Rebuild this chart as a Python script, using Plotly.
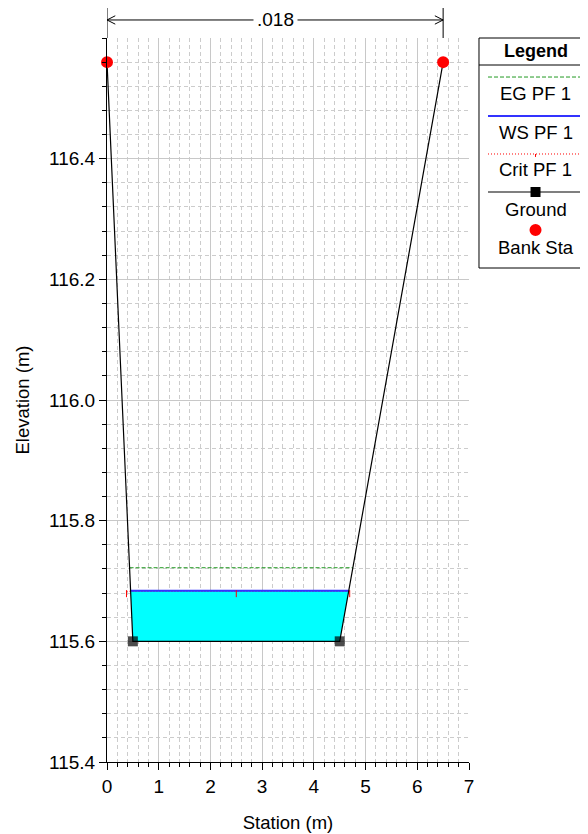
import numpy as np
import plotly.graph_objects as go

# cross-section data
station = [0.0, 0.5, 4.5, 6.5]
ground_elev = [116.56, 115.6, 115.6, 116.56]
bank_sta = [0.0, 6.5]
bank_elev = [116.56, 116.56]
ws_elev = 115.684
eg_elev = 115.722
crit_elev = 115.683
n_label = ".018"

x_ticks = [0, 1, 2, 3, 4, 5, 6, 7]
y_ticks = [115.4, 115.6, 115.8, 116.0, 116.2, 116.4]

FONT = "Liberation Sans, Arial, sans-serif"
EG_LINE = dict(color='#229922', width=1, dash='4px,2px')
WS_LINE = dict(color='#3333ff', width=2)
CRIT_LINE = dict(color='#ff0000', width=1, dash='1px,2px')
GROUND_LINE = dict(color='black', width=1.2)


def water_edges(elev):
    # where a horizontal level meets the left / right bank slopes
    left = np.interp(elev, [ground_elev[1], ground_elev[0]], [station[1], station[0]])
    right = np.interp(elev, [ground_elev[2], ground_elev[3]], [station[2], station[3]])
    return left, right


fig = go.Figure()

# water fill
wl, wr = water_edges(ws_elev)
fig.add_trace(go.Scatter(
    x=[wl, station[1], station[2], wr, wl],
    y=[ws_elev, ground_elev[1], ground_elev[2], ws_elev, ws_elev],
    mode='lines', fill='toself', fillcolor='#00ffff',
    line=dict(width=0), showlegend=False, hoverinfo='skip',
))

# EG
el, er = water_edges(eg_elev)
fig.add_trace(go.Scatter(
    x=[el, er], y=[eg_elev, eg_elev], mode='lines',
    line=EG_LINE, showlegend=False,
))

# Crit
cl, cr = water_edges(crit_elev)
fig.add_trace(go.Scatter(
    x=[cl - 0.08, cr + 0.02], y=[crit_elev, crit_elev], mode='lines',
    line=CRIT_LINE, showlegend=False,
))

# WS
fig.add_trace(go.Scatter(
    x=[wl, wr], y=[ws_elev, ws_elev], mode='lines',
    line=WS_LINE, showlegend=False,
))

# crit tick marks
fig.add_trace(go.Scatter(
    x=[cl - 0.08, (station[0] + station[3]) / 2 - 0.75, cr + 0.02],
    y=[crit_elev - 0.004] * 3, mode='markers',
    marker=dict(symbol='line-ns', size=5, line=dict(color='#ff0000', width=1)),
    showlegend=False, hoverinfo='skip',
))

# ground
fig.add_trace(go.Scatter(
    x=station, y=ground_elev, mode='lines+markers',
    line=GROUND_LINE,
    marker=dict(symbol='square', size=[0, 10, 10, 0], color='black',
                line=dict(width=0)),
    showlegend=False,
))

# bank stations
fig.add_trace(go.Scatter(
    x=bank_sta, y=bank_elev, mode='markers',
    marker=dict(symbol='circle', size=12, color='#ff0000', line=dict(width=0)),
    showlegend=False, cliponaxis=False,
))

fig.update_xaxes(
    range=[0, 7], tickvals=x_ticks, ticks='outside', ticklen=7, tickcolor='black',
    showline=True, linecolor='black', linewidth=1, automargin=False,
    showgrid=True, gridcolor='#c8c8c8', gridwidth=1, zeroline=False,
    minor=dict(dtick=0.2, tick0=0, ticks='outside', ticklen=4, tickcolor='black',
               showgrid=True, gridcolor='#cccccc', griddash='4px,3px', gridwidth=1),
    title=dict(text='Station (m)', font=dict(size=18.5, family=FONT, color='black'), standoff=20),
    tickfont=dict(size=19, family=FONT, color='black'),
)
fig.update_yaxes(
    range=[115.4, 116.6], tickvals=y_ticks, tickformat='.1f', ticks='outside',
    ticklen=7, tickcolor='black',
    showline=True, linecolor='black', linewidth=1, automargin=False,
    showgrid=True, gridcolor='#c8c8c8', gridwidth=1, zeroline=False,
    minor=dict(dtick=0.04, tick0=115.4, ticks='outside', ticklen=4, tickcolor='black',
               showgrid=True, gridcolor='#cccccc', griddash='4px,3px', gridwidth=1),
    title=dict(text='Elevation (m)', font=dict(size=18.5, family=FONT, color='black'), standoff=14),
    tickfont=dict(size=19, family=FONT, color='black'),
)

shapes = []
annotations = []

# dimension line with n-value above the plot
dim_y = 1.0249
for xs in bank_sta:
    shapes.append(dict(type='line', xref='x', yref='paper', x0=xs, x1=xs,
                       y0=1.0, y1=1.06, line=dict(color='black', width=1)))
shapes.append(dict(type='line', xref='x', yref='paper', x0=bank_sta[0], x1=bank_sta[1],
                   y0=dim_y, y1=dim_y, line=dict(color='black', width=1)))
d, h = 0.16, 0.0058
shapes.append(dict(type='path', xref='x', yref='paper',
                   path=f'M {bank_sta[0] + d},{dim_y + h} L {bank_sta[0]},{dim_y} L {bank_sta[0] + d},{dim_y - h}',
                   line=dict(color='black', width=1)))
shapes.append(dict(type='path', xref='x', yref='paper',
                   path=f'M {bank_sta[1] - d},{dim_y + h} L {bank_sta[1]},{dim_y} L {bank_sta[1] - d},{dim_y - h}',
                   line=dict(color='black', width=1)))
annotations.append(dict(x=(bank_sta[0] + bank_sta[1]) / 2, y=dim_y, xref='x', yref='paper',
                        xanchor='center', yanchor='middle',
                        text=n_label, showarrow=False, bgcolor='white',
                        font=dict(size=19, family=FONT, color='black'), borderpad=3))

# manual legend box
lx0, lx1 = 1.0276, 1.34
la, lb = 1.0525, 1.315
lc = (la + lb) / 2
shapes.append(dict(type='rect', xref='paper', yref='paper', x0=lx0, x1=lx1,
                   y0=0.6823, y1=1.0, line=dict(color='black', width=1), fillcolor='white',
                   layer='below'))
shapes.append(dict(type='line', xref='paper', yref='paper', x0=lx0, x1=lx1,
                   y0=0.9627, y1=0.9627, line=dict(color='black', width=1)))
annotations.append(dict(x=lc, y=0.982, xref='paper', yref='paper', text='<b>Legend</b>',
                        xanchor='center', yanchor='middle',
                        showarrow=False, font=dict(size=18, family=FONT, color='black')))

entries = [
    ('EG PF 1', 0.9461, 0.9227, EG_LINE),
    ('WS PF 1', 0.8923, 0.870, WS_LINE),
    ('Crit PF 1', 0.8398, 0.8177, CRIT_LINE),
    ('Ground', 0.7873, 0.7638, GROUND_LINE),
]
for name, ly, ty, ln in entries:
    shapes.append(dict(type='line', xref='paper', yref='paper', x0=la, x1=lb,
                       y0=ly, y1=ly, line=ln))
    annotations.append(dict(x=lc, y=ty, xref='paper', yref='paper', text=name,
                            xanchor='center', yanchor='middle',
                            showarrow=False, font=dict(size=18.5, family=FONT, color='black')))

# crit tick in legend
shapes.append(dict(type='line', xref='paper', yref='paper', x0=lc, x1=lc,
                   y0=0.8398, y1=0.8357, line=dict(color='#ff0000', width=1)))
# ground square in legend
shapes.append(dict(type='rect', xref='paper', yref='paper', x0=lc - 0.0138, x1=lc + 0.0138,
                   y0=0.7873 - 0.0069, y1=0.7873 + 0.0069, line=dict(width=0), fillcolor='black'))
# bank sta dot in legend
shapes.append(dict(type='circle', xref='paper', yref='paper', x0=lc - 0.0166, x1=lc + 0.0166,
                   y0=0.7348 - 0.0083, y1=0.7348 + 0.0083, line=dict(width=0), fillcolor='#ff0000'))
annotations.append(dict(x=lc, y=0.7113, xref='paper', yref='paper', text='Bank Sta',
                        xanchor='center', yanchor='middle',
                        showarrow=False, font=dict(size=18.5, family=FONT, color='black')))

# the page body adds an 8px offset, so the figure is 8px smaller and margins shifted
fig.update_layout(
    width=580, height=826,
    margin=dict(l=99, r=119, t=30, b=72),
    plot_bgcolor='white', paper_bgcolor='white',
    shapes=shapes, annotations=annotations,
    showlegend=False,
    font=dict(family=FONT, color='black'),
)

fig.write_html("out.html")
